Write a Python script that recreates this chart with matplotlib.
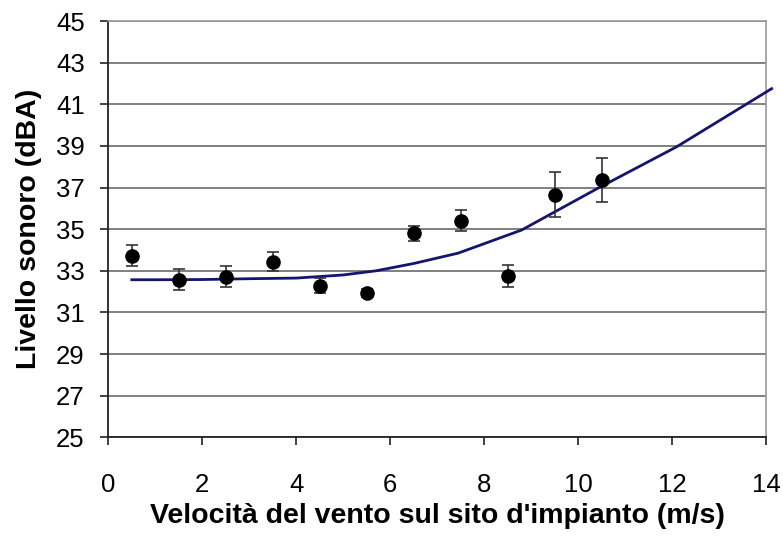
import numpy as np
import matplotlib.pyplot as plt

plt.rcParams['font.family'] = ['Liberation Sans', 'DejaVu Sans']

# measured points (wind speed, sound level, error)
vento = [0.5, 1.5, 2.5, 3.5, 4.5, 5.5, 6.5, 7.5, 8.5, 9.5, 10.5]
livello = [33.72, 32.57, 32.72, 33.43, 32.28, 31.93, 34.8, 35.4, 32.76, 36.66, 37.38]
errore = [0.5, 0.5, 0.5, 0.45, 0.35, 0.2, 0.35, 0.5, 0.53, 1.07, 1.06]

# fitted curve
curva_x = [0.5, 1, 2, 3, 4, 5, 5.7, 6.5, 7.45, 8.8, 10.4, 12.1, 14.12]
curva_y = [32.57, 32.57, 32.58, 32.62, 32.65, 32.8, 33.0, 33.35, 33.85, 34.96, 36.94, 38.96, 41.75]

fig = plt.figure(figsize=(7.83, 5.36), dpi=100)
ax = fig.add_axes([0.1383, 0.1841, 0.84, 0.7767])

# grid
for yv in np.arange(25, 46, 2):
    ax.axhline(yv, color='#808080', lw=1.4, zorder=1)

ax.plot(curva_x, curva_y, color='#15156e', lw=2, zorder=3, clip_on=False)
ax.errorbar(vento, livello, yerr=errore, fmt='o', color='black', ms=9.5,
            ecolor='#333333', elinewidth=1.2, capsize=4, capthick=1.2, zorder=4)

ax.set_xlim(0, 14)
ax.set_ylim(25, 45)
ax.set_xticks(np.arange(0, 15, 2))
ax.set_yticks(np.arange(25, 46, 2))

for s in ['top', 'right']:
    ax.spines[s].set_color('#9a9a9a')
    ax.spines[s].set_linewidth(1.2)
for s in ['left', 'bottom']:
    ax.spines[s].set_color('#222222')
    ax.spines[s].set_linewidth(1.3)

ax.tick_params(axis='both', direction='out', length=6, width=1.2, color='#222222',
               labelsize=18.5)
ax.tick_params(axis='x', pad=20)
ax.tick_params(axis='y', pad=11)

ax.set_xlabel("Velocità del vento sul sito d'impianto (m/s)", fontsize=20.5,
              fontweight='bold', labelpad=4)
ax.set_ylabel('Livello sonoro (dBA)', fontsize=20.5, fontweight='bold', labelpad=10)

fig.savefig('out.png', dpi=100)
